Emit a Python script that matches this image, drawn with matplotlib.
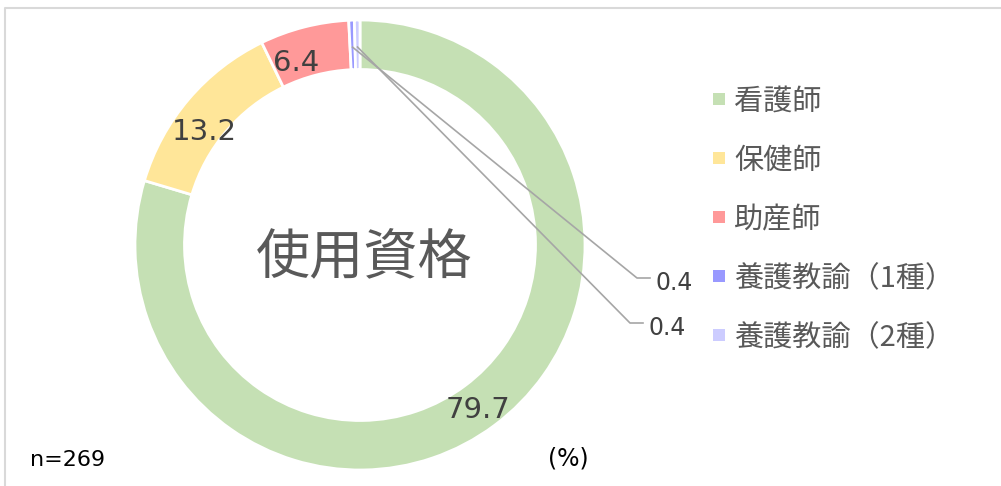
import numpy as np
import matplotlib
matplotlib.use('Agg')
import matplotlib.pyplot as plt
from matplotlib.patches import Rectangle
from matplotlib.lines import Line2D

plt.rcParams['font.family'] = ['Noto Sans CJK JP', 'DejaVu Sans']
num_font = ['DejaVu Sans']

categories = ['看護師', '保健師', '助産師', '養護教諭（1種）', '養護教諭（2種）']
values = [79.7, 13.2, 6.4, 0.4, 0.4]
colors = ['#C5E0B4', '#FFE699', '#FF9999', '#9999FF', '#CCCCFF']
center_title = '使用資格'

W, H = 1001, 486
mydpi = 100
fig = plt.figure(figsize=(W / mydpi, H / mydpi), dpi=mydpi)

# frame (only top and left edges visible in the reference)
fig.add_artist(Line2D([5 / W, 5 / W, 1], [0, 1 - 8 / H, 1 - 8 / H],
                      transform=fig.transFigure, color='#D9D9D9', lw=1.5))

cx, cy, R = 360, 245, 225
ax = fig.add_axes([(cx - R) / W, (H - cy - R) / H, 2 * R / W, 2 * R / H])

wedges, _ = ax.pie(values, colors=colors, startangle=90, counterclock=False,
                   radius=1, wedgeprops=dict(width=0.22, edgecolor='white', linewidth=2))
ax.set_xlim(-1, 1)
ax.set_ylim(-1, 1)
ax.axis('off')


def to_data(px, py):
    return (px - cx) / R, (cy - py) / R


# pixel nudges for the in-ring labels (x right, y down)
nudges = [(0, 6), (-5, 15), (-15, 10)]
small_targets = [(637, 278), (630, 323)]
small_idx = 0
for i, (w, v) in enumerate(zip(wedges, values)):
    mid = np.deg2rad((w.theta1 + w.theta2) / 2)
    x, y = 0.88 * np.cos(mid), 0.88 * np.sin(mid)
    if v >= 1:
        dx, dy = nudges[i]
        ax.text(x + dx / R, y - dy / R, f'{v:.1f}', ha='center', va='center', fontsize=21,
                color='#404040', family=num_font)
    else:
        tx, ty = to_data(*small_targets[small_idx])
        ex, _ = to_data(small_targets[small_idx][0] + 13, 0)
        ax.plot([x, tx, ex], [y, ty, ty], color='#A6A6A6', lw=1.2, clip_on=False)
        ax.text(ex + 0.025, ty - 5 / R, f'{v:.1f}', ha='left', va='center', fontsize=17,
                color='#404040', clip_on=False, family=num_font)
        small_idx += 1

ax.text(0.018, -0.06, center_title, ha='center', va='center', fontsize=39, color='#595959')

# legend
for i, (lab, col) in enumerate(zip(categories, colors)):
    ly = 99 + i * 59
    fig.add_artist(Rectangle((713 / W, (H - ly - 6) / H), 12 / W, 12 / H,
                             transform=fig.transFigure, facecolor=col, edgecolor='none'))
    fig.text(734 / W, (H - ly - 3) / H, lab, ha='left', va='center', fontsize=21, color='#595959')

fig.text(30 / W, (H - 460) / H, 'n=269', ha='left', va='center', fontsize=16,
         color='#000000', family=num_font)
fig.text(548 / W, (H - 458) / H, '(%)', ha='left', va='center', fontsize=17,
         color='#000000', family=num_font)

plt.savefig('out.png', dpi=mydpi, facecolor='white')
